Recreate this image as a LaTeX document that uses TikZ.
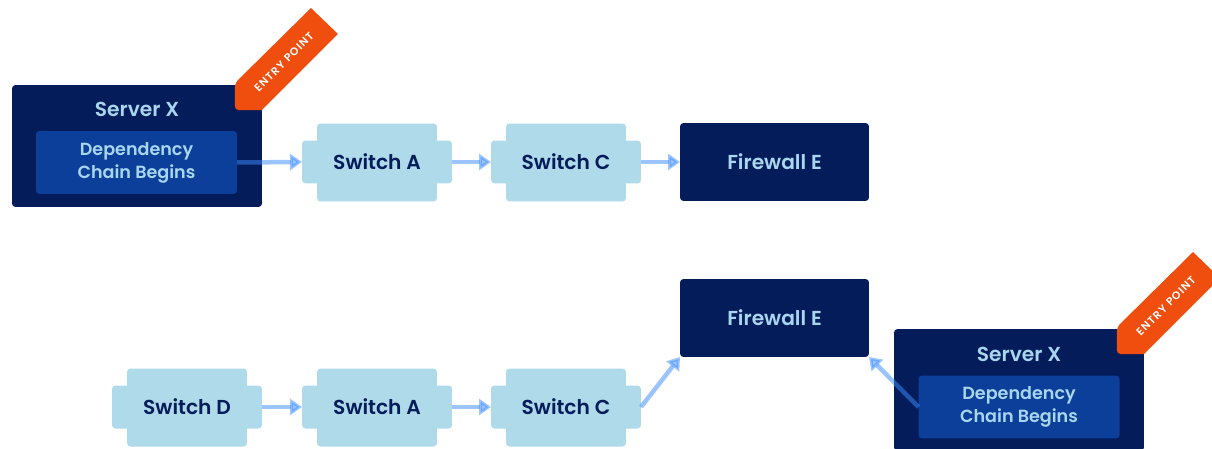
\documentclass[tikz,border=0pt]{standalone}
\usepackage{fontspec}
\setmainfont{Poppins}[BoldFont={Poppins SemiBold}]
\usepackage{xcolor}
\usetikzlibrary{arrows.meta, backgrounds}

\definecolor{navy}{HTML}{051C5A}
\definecolor{chainblue}{HTML}{0B3F99}
\definecolor{swfill}{HTML}{AEDAEA}
\definecolor{lbl}{HTML}{A9D6EF}
\definecolor{entryorange}{HTML}{F04E0F}
\definecolor{flowblue}{HTML}{3C8CFF}

\begin{document}
\begin{tikzpicture}[
  x=0.02cm, y=-0.02cm,
  box/.style={rounded corners=2, inner sep=0pt, outer sep=0pt, font=\bfseries\fontsize{11.5}{13}\selectfont},
  switch/.style={box, fill=swfill, text=navy, minimum width=3cm, minimum height=0.86cm},
  firewall/.style={box, fill=navy, text=lbl, minimum width=3.78cm, minimum height=1.56cm},
  server/.style={box, fill=navy, minimum width=5cm, minimum height=2.44cm},
  chain/.style={box, fill=chainblue, text=lbl, minimum width=4.02cm, minimum height=1.26cm, align=center, font=\bfseries\fontsize{10}{13}\selectfont},
  srvlabel/.style={font=\bfseries\fontsize{11.5}{13}\selectfont, text=lbl, inner sep=0pt},
  ribbon/.style={fill=entryorange},
  ribbontext/.style={font=\bfseries\fontsize{6.2}{7}\selectfont\addfontfeature{LetterSpace=10}, text=white, rotate=45, inner sep=0pt},
  arrow/.style={-{Triangle[length=0.24cm, width=0.32cm]}, line width=0.09cm, draw=flowblue, fill=flowblue, opacity=0.5},
]
\useasboundingbox (0,0) rectangle (1212,449);
\clip (0,0) rectangle (1212,449);

% upper chain
\node[server] (srv1) at (137,146) {};
\node[srvlabel] (srv1lbl) at (137,109) {Server X};
\node[chain] (dep1) at (136.5,162.5) {Dependency\\Chain Begins};
\node[switch] (swA1) at (377,162) {Switch A};
\node[switch] (swC1) at (566,162) {Switch C};
\node[firewall] (fw1) at (774.5,162) {Firewall E};

% lower chain
\node[switch] (swD2) at (187,407) {Switch D};
\node[switch] (swA2) at (377,407) {Switch A};
\node[switch] (swC2) at (566,407) {Switch C};
\node[firewall] (fw2) at (774.5,318) {Firewall E};
\node[server] (srv2) at (1019,390) {};
\node[srvlabel] (srv2lbl) at (1019,354) {Server X};
\node[chain] (dep2) at (1019,407) {Dependency\\Chain Begins};

% switch bodies (taller middle part)
\begin{scope}[on background layer]
  \foreach \n in {swA1, swC1, swD2, swA2, swC2}
    \fill[swfill, rounded corners=2] ([shift={(15,-17)}]\n.north west) rectangle ([shift={(-15,18)}]\n.south east);
\end{scope}

% entry point ribbons
\foreach \s in {srv1, srv2} {
  \fill[ribbon] ([shift={(-27,-2)}]\s.north east) -- ([shift={(49,-77)}]\s.north east)
    -- ([shift={(76,-51)}]\s.north east) -- ([shift={(0,25)}]\s.north east)
    [rounded corners=2] -- ([shift={(-27,25)}]\s.north east) -- cycle;
  \node[ribbontext] (ep-\s) at ([shift={(22,-23)}]\s.north east) {ENTRY POINT};
}

% connectors
\draw[arrow] (dep1.east) -- (swA1.west);
\draw[arrow] (swA1.east) -- (swC1.west);
\draw[arrow] (swC1.east) -- (fw1.west);

\draw[arrow] (swD2.east) -- (swA2.west);
\draw[arrow] (swA2.east) -- (swC2.west);
\draw[arrow] (swC2.east) -- (fw2.south west);
\draw[arrow] (dep2.west) -- (fw2.south east);

\end{tikzpicture}
\end{document}
